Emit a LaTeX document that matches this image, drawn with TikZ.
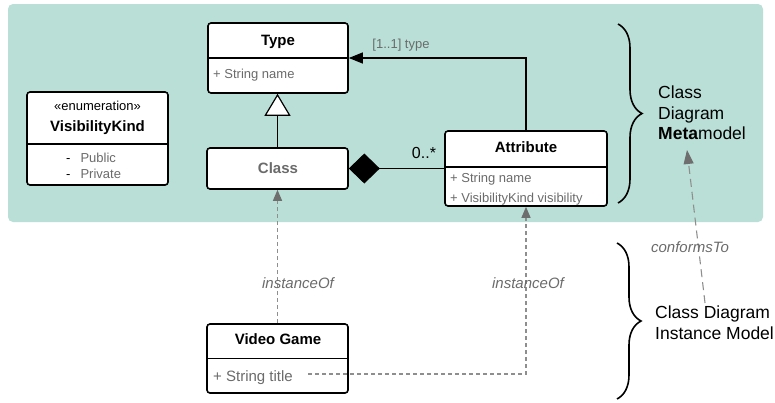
\documentclass[tikz,border=0pt]{standalone}
\usepackage{fontspec}
\setmainfont{Liberation Sans}
\usetikzlibrary{arrows.meta,decorations.pathreplacing}

\definecolor{panel}{HTML}{B9DFD7}
\definecolor{txtgray}{HTML}{6B6B6B}
\definecolor{linkgray}{HTML}{8E8E8E}
\definecolor{headgray}{HTML}{6E6E6E}

\begin{document}
\begin{tikzpicture}[x=1pt,y=-1pt,
  classbox/.style={draw=black, line width=1.6pt, rounded corners=3pt, fill=white, inner sep=0pt},
  title/.style={font=\fontsize{15}{17}\selectfont\bfseries, inner sep=0pt, anchor=base},
  attr/.style={font=\fontsize{13}{15}\selectfont, text=txtgray, inner sep=0pt, anchor=base west},
  divider/.style={line width=1.6pt},
  link/.style={line width=1.2pt},
  inst/.style={draw=linkgray, line width=1.2pt, dash pattern=on 4pt off 3pt,
    -{Triangle[length=11pt,width=9pt,color=headgray]}},
  conf/.style={draw=linkgray, line width=1.1pt, dash pattern=on 8pt off 5pt,
    -{Triangle[length=14pt,width=10pt,color=headgray]}},
  note/.style={font=\fontsize{15}{17}\selectfont\itshape, text=txtgray, inner sep=0pt, anchor=base},
  bigtext/.style={font=\fontsize{17.5}{20.5}\selectfont, inner sep=0pt, align=left, anchor=west},
  curly/.style={decorate, decoration={brace, amplitude=24pt, aspect=0.5}, line width=1.6pt},
]
\useasboundingbox (0,0) rectangle (775,402);

% metamodel panel
\node[fill=panel, rounded corners=5pt, minimum width=755pt, minimum height=218pt, inner sep=0pt]
  (panel) at (385.5,113) {};

% class boxes
\node[classbox, minimum width=140pt, minimum height=70pt] (type) at (278,58) {};
\node[classbox, minimum width=141pt, minimum height=93pt] (vk) at (97.5,138.5) {};
\node[classbox, minimum width=141pt, minimum height=41pt] (class) at (277.5,168.5) {};
\node[classbox, minimum width=162pt, minimum height=75pt] (attrib) at (526,168.5) {};
\node[classbox, minimum width=141pt, minimum height=69pt] (vg) at (277.5,358.5) {};

% compartment dividers
\draw[divider] (type.west) -- (type.east);
\draw[divider] (vk.west |- 0,144) -- (vk.east |- 0,144);
\draw[divider] (attrib.west |- 0,167) -- (attrib.east |- 0,167);
\draw[divider] (vg.west) -- (vg.east);

% Type
\node[title] (typet) at (278,45) {Type};
\node[attr] (typea) at (213,78) {+ String name};

% VisibilityKind enumeration
\node[font=\fontsize{13}{15}\selectfont, inner sep=0pt, anchor=base] (vks) at (97.5,110) {«enumeration»};
\node[title] (vkt) at (97.5,131) {VisibilityKind};
\node[attr] (vkpub) at (66,162) {\textcolor{black}{-}\hspace{10pt}Public};
\node[attr] (vkpriv) at (66,178) {\textcolor{black}{-}\hspace{10pt}Private};

% Class
\node[title, text=txtgray] (classt) at (278,173) {Class};

% Attribute
\node[title] (attribt) at (526,152) {Attribute};
\node[attr] (attriba) at (450,182) {+ String name};
\node[attr] (attribb) at (450,202) {+ VisibilityKind visibility};

% Video Game
\node[title] (vgt) at (278,344) {Video Game};
\node[attr, font=\fontsize{15}{17}\selectfont] (vga) at (213,381.5) {+ String title};
\coordinate (titleend) at (308,374);

% generalisation Class -> Type
\draw[link, -{Triangle[length=22pt,width=26pt,fill=white]}] (class.north) -- (class.north |- type.south);

% association Attribute -> Type
\draw[link, -{Triangle[length=14pt,width=11pt]}] (attrib.north) |- (type.east);
\node[font=\fontsize{13}{15}\selectfont, text=txtgray, inner sep=0pt, anchor=base] (typelbl) at (401,48) {[1..1] type};

% composition Class <>- Attribute
\draw[link, {Diamond[length=31pt,width=30pt]}-] (class.east) -- (attrib.west);
\node[font=\fontsize{16}{18}\selectfont, inner sep=0pt, anchor=base] (mult) at (424,158) {0..*};

% instanceOf links
\draw[inst] (vg.north) -- (class.south);
\node[note] (inst1) at (298,288) {instanceOf};
\draw[inst] (titleend) -| (attrib.south);
\node[note] (inst2) at (528,288) {instanceOf};

% braces and level labels
\coordinate (b1top) at (618,24);
\coordinate (b1bot) at (618,203);
\draw[curly] (b1top) -- (b1bot);
\coordinate (b2top) at (617,243);
\coordinate (b2bot) at (617,399);
\draw[curly] (b2top) -- (b2bot);

\node[bigtext] (meta) at (658,113) {Class\\Diagram\\\textbf{Meta}model};
\node[bigtext] (inst) at (655,322.5) {Class Diagram\\Instance Model};

% conformsTo
\coordinate (cfstart) at (705,303);
\coordinate (cfend) at (687,150);
\draw[conf] (cfstart) -- (cfend);
\node[note] (conftxt) at (690,252) {conformsTo};
\end{tikzpicture}
\end{document}
